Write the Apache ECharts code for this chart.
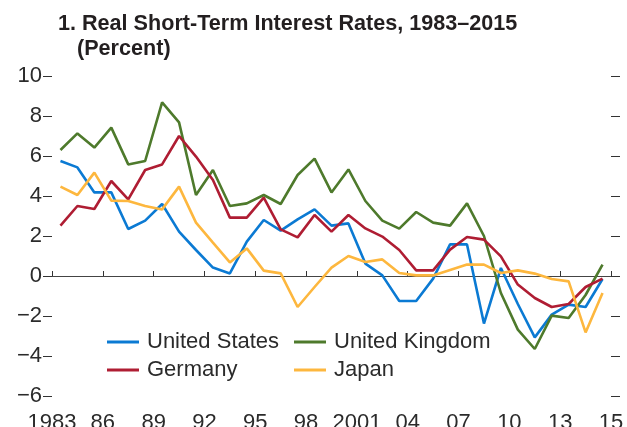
<!DOCTYPE html>
<html>
<head>
<meta charset="utf-8">
<script src="https://cdn.jsdelivr.net/npm/echarts@6/dist/echarts.min.js"></script>
<style>
html,body{margin:0;padding:0;background:#fff;}
#chart{width:627px;height:427px;}
</style>
</head>
<body>
<div id="chart"></div>
<script>
const years = [1983,1984,1985,1986,1987,1988,1989,1990,1991,1992,1993,1994,1995,1996,1997,1998,1999,2000,2001,2002,2003,2004,2005,2006,2007,2008,2009,2010,2011,2012,2013,2014,2015];
const unitedStates = [5.75,5.43,4.18,4.18,2.35,2.77,3.6,2.22,1.3,0.42,0.13,1.72,2.8,2.27,2.83,3.33,2.52,2.63,0.62,0.03,-1.25,-1.25,-0.13,1.58,1.58,-2.38,0.4,-1.4,-3.07,-1.93,-1.43,-1.55,-0.15];
const unitedKingdom = [6.3,7.13,6.42,7.42,5.58,5.75,8.68,7.68,4.05,5.3,3.5,3.63,4.05,3.6,5.05,5.87,4.18,5.33,3.75,2.77,2.37,3.2,2.67,2.52,3.63,2.0,-0.85,-2.68,-3.65,-1.98,-2.1,-0.95,0.57];
const germany = [2.52,3.5,3.35,4.75,3.83,5.3,5.58,7.0,5.97,4.8,2.92,2.92,3.92,2.33,1.93,3.05,2.22,3.05,2.38,1.97,1.3,0.28,0.28,1.32,1.95,1.82,0.98,-0.43,-1.1,-1.55,-1.4,-0.55,-0.13];
const japan = [4.47,4.05,5.17,3.77,3.75,3.5,3.33,4.47,2.67,1.67,0.68,1.38,0.27,0.13,-1.55,-0.55,0.42,1.0,0.7,0.83,0.15,0.03,0.03,0.3,0.57,0.57,0.15,0.28,0.12,-0.15,-0.27,-2.82,-0.85];
const xTickLabels = ['1983','86','89','92','95','98','2001','04','07','10','13','15'];
const yTicks = [-6,-4,-2,0,2,4,6,8,10];
const seriesNames = ['United States','United Kingdom','Germany','Japan'];
const seriesColors = ['#0B7AD3','#4E7A2C','#AF1D33','#FDB73E'];

const FONT = '"Liberation Sans", Arial, Helvetica, sans-serif';
const TXT = '#2b2b2b';

// each year's point sits in the middle of its one-year slot; ticks are at slot boundaries
function pts(vals){ return vals.map((v,i)=>[(years[i]-years[0])+0.5, v]); }

const chart = echarts.init(document.getElementById('chart'), null, {renderer:'canvas'});
const seriesData = [unitedStates, unitedKingdom, germany, japan];

chart.setOption({
  animation:false,
  backgroundColor:'#fff',
  textStyle:{fontFamily:FONT},
  title:[
    {text:'1. Real Short-Term Interest Rates, 1983\u20132015', left:58, top:13, padding:0,
     textStyle:{fontFamily:FONT, fontSize:21.6, fontWeight:'bold', color:'#231f20'}},
    {text:'(Percent)', left:77, top:38, padding:0,
     textStyle:{fontFamily:FONT, fontSize:21.6, fontWeight:'bold', color:'#231f20'}}
  ],
  legend:[
    {data:[seriesNames[0], seriesNames[2]], orient:'vertical', left:107, top:331, padding:0,
     icon:'rect', itemWidth:32, itemHeight:3, itemGap:6,
     textStyle:{fontFamily:FONT, fontSize:22, color:TXT, padding:[0,0,0,3]}},
    {data:[seriesNames[1], seriesNames[3]], orient:'vertical', left:294, top:331, padding:0,
     icon:'rect', itemWidth:32, itemHeight:3, itemGap:6,
     textStyle:{fontFamily:FONT, fontSize:22, color:TXT, padding:[0,0,0,3]}}
  ],
  grid:{left:52, right:16, top:76, bottom:31, containLabel:false, outerBoundsMode:'none'},
  xAxis:{
    type:'value', min:0, max:years.length, interval:3,
    axisLine:{show:true, lineStyle:{color:'#333', width:1}},
    axisTick:{show:true, inside:true, length:5, lineStyle:{color:'#333', width:1}},
    axisLabel:{show:true, margin:16, fontFamily:FONT, fontSize:22, color:TXT,
      showMinLabel:true, showMaxLabel:true,
      formatter:function(v){ return xTickLabels[Math.round(v/3)] || ''; }},
    splitLine:{show:false}
  },
  yAxis:[
    {type:'value', min:yTicks[0], max:yTicks[yTicks.length-1], interval:2, position:'left',
     axisLine:{show:false},
     axisTick:{show:true, inside:false, length:9, lineStyle:{color:'#333', width:1}},
     axisLabel:{show:true, margin:10, fontFamily:FONT, fontSize:22, color:TXT,
       formatter:function(v){ return v<0 ? '\u2212'+Math.abs(v) : String(v); }},
     splitLine:{show:false}},
    {type:'value', min:yTicks[0], max:yTicks[yTicks.length-1], interval:2, position:'right',
     axisLine:{show:false},
     axisTick:{show:true, inside:false, length:9, lineStyle:{color:'#333', width:1}},
     axisLabel:{show:false},
     splitLine:{show:false}}
  ],
  series: seriesNames.map((name,k)=>({
    name:name, type:'line', data:pts(seriesData[k]),
    showSymbol:false, symbol:'none', smooth:false,
    lineStyle:{color:seriesColors[k], width:2.6},
    itemStyle:{color:seriesColors[k]},
    z: 3,
    markLine: k===0 ? {silent:true, symbol:'none', label:{show:false},
      lineStyle:{color:'#444', width:1, type:'solid'}, z:1,
      data:[{yAxis:0}]} : undefined
  }))
});
</script>
</body>
</html>
